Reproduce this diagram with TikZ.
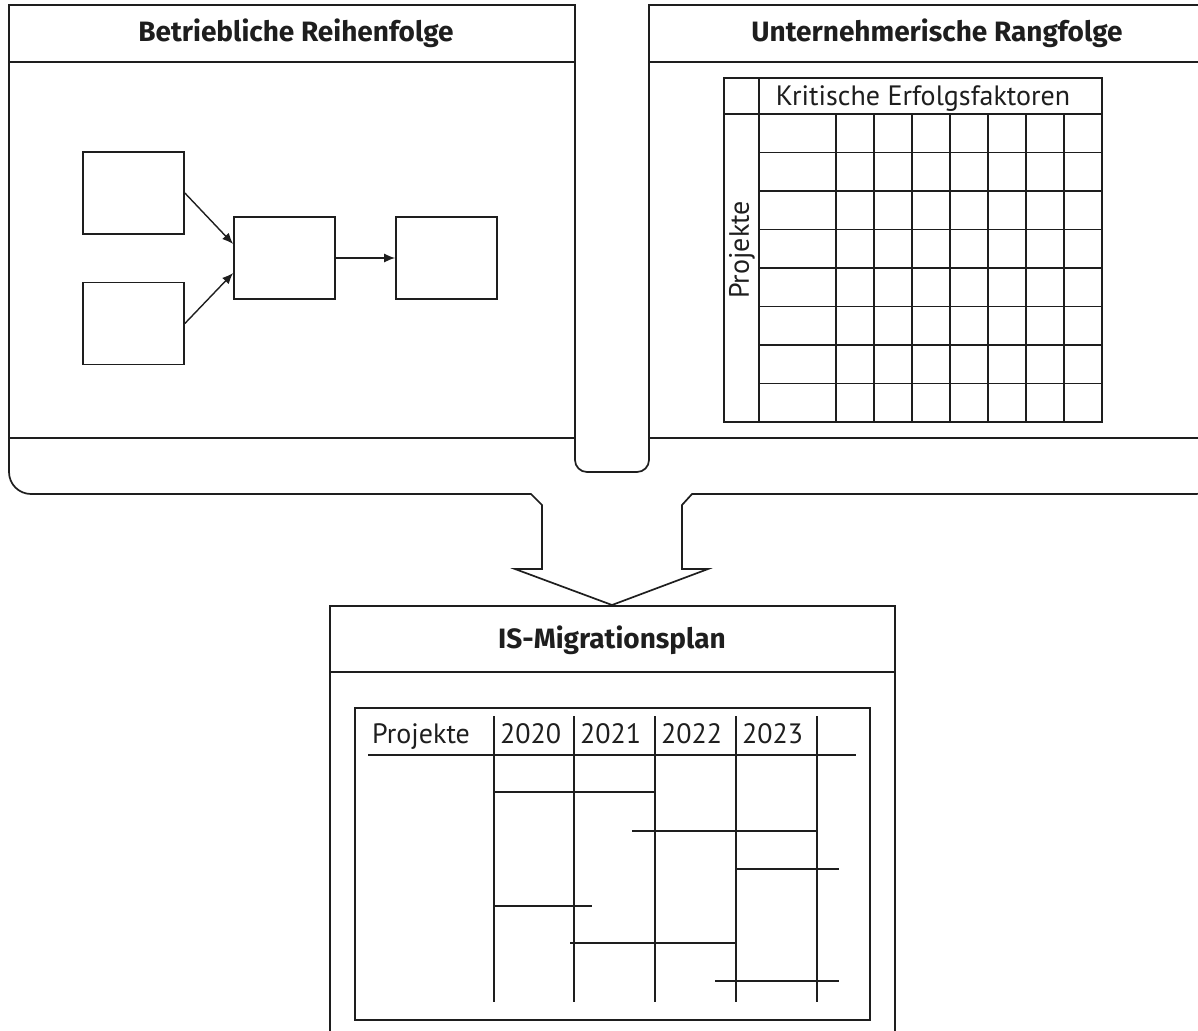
\documentclass[tikz,border=0pt]{standalone}
\usepackage{fontspec}
\setmainfont{PT Sans}
\newfontfamily\headfont{Fira Sans}
\usetikzlibrary{arrows.meta}
\definecolor{ink}{HTML}{1E1E1E}
\tikzset{
  outline/.style={line width=1.7pt, draw=ink, line join=miter},
  paneltitle/.style={font=\headfont\bfseries\fontsize{28}{31}\selectfont, inner sep=0pt, text=ink},
  celltext/.style={font=\fontsize{28}{32}\selectfont, inner sep=0pt, text=ink},
  flowbox/.style={draw=ink, line width=1.7pt, minimum width=101pt, minimum height=82pt, inner sep=0pt},
  flowarrow/.style={-{Latex[length=11pt,width=9pt]}, line width=1.4pt, draw=ink},
  gridline/.style={line width=1.6pt, draw=ink},
}
\begin{document}
\begin{tikzpicture}[x=1pt,y=1pt]
\useasboundingbox (0,0) rectangle (1198,-1030);
\clip (0,0) rectangle (1198,-1030);

% outer frame of the two upper panels with the funnel arrow
\draw[outline] (9,-5) -- (575,-5) -- (575,-460)
  arc[start angle=180, end angle=270, radius=12] -- (637,-472)
  arc[start angle=270, end angle=360, radius=12] -- (649,-5)
  -- (1218,-5) -- (1218,-472)
  arc[start angle=0, end angle=-90, radius=22] -- (692,-494)
  -- (682,-505) -- (682,-569) -- (708,-569) -- (612,-605)
  -- (515,-569) -- (542,-569) -- (542,-505) -- (531,-494)
  -- (31,-494) arc[start angle=270, end angle=180, radius=22] -- cycle;

% header and footer rules of the upper panels
\draw[outline] (9,-62) -- (575,-62);
\draw[outline] (649,-62) -- (1218,-62);
\draw[outline] (9,-438) -- (575,-438);
\draw[outline] (649,-438) -- (1218,-438);

\node[paneltitle] (titleA) at (296,-33) {Betriebliche Reihenfolge};
\node[paneltitle] (titleB) at (937,-33) {Unternehmerische Rangfolge};

% process flow
\node[flowbox] (b1) at (133.5,-193) {};
\node[flowbox] (b2) at (133.5,-323.5) {};
\node[flowbox] (b3) at (284.5,-258) {};
\node[flowbox] (b4) at (446.5,-258) {};
\draw[flowarrow] (b1.east) -- ([yshift=14pt]b3.west);
\draw[flowarrow] (b2.east) -- ([yshift=-15pt]b3.west);
\draw[flowarrow] (b3.east) -- (b4.west);

% success factor matrix
\draw[gridline] (724,-78) rectangle (1102,-422);
\draw[gridline] (724,-114) -- (1102,-114);
\draw[gridline] (759,-78) -- (759,-422);
\foreach \k in {1,...,7} {
  \draw[gridline] (759,{-114-38.5*\k}) -- (1102,{-114-38.5*\k});
}
\foreach \k in {0,...,6} {
  \draw[gridline] ({836+38*\k},-114) -- ({836+38*\k},-422);
}
\node[celltext, anchor=base] (kef) at (923,-106) {Kritische Erfolgsfaktoren};
\node[celltext, rotate=90] (projA) at (742,-250) {Projekte};

% migration plan panel
\draw[outline] (330,-606) rectangle (895,-1045);
\draw[outline] (330,-672) -- (895,-672);
\node[paneltitle] (titleC) at (612,-640) {IS-Migrationsplan};

\draw[gridline] (355,-708) rectangle (870,-1020);
\draw[gridline] (368,-755) -- (856,-755);
\node[celltext, anchor=base west] (projB) at (372,-743) {Projekte};
\foreach \x/\yr in {494/2020, 574/2021, 655/2022, 736/2023} {
  \node[celltext, anchor=base west] (y\yr) at (\x+6,-743) {\yr};
}
\foreach \x in {494,574,655,736,817} {
  \draw[gridline] (\x,-716) -- (\x,-1002);
}
% project bars
\draw[gridline] (494,-792) -- (654,-792);
\draw[gridline] (632,-831) -- (816,-831);
\draw[gridline] (736,-869) -- (839,-869);
\draw[gridline] (494,-906) -- (592,-906);
\draw[gridline] (570,-943) -- (736,-943);
\draw[gridline] (715,-981) -- (839,-981);
\end{tikzpicture}
\end{document}
